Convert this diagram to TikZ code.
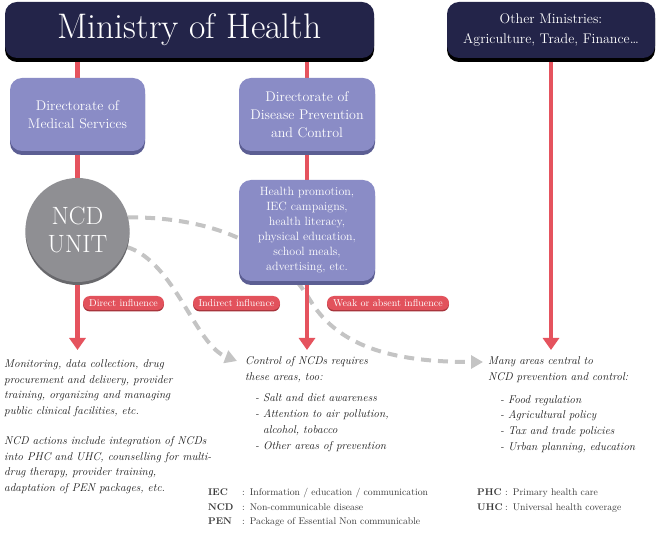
\documentclass[tikz,border=0pt]{standalone}
\usepackage{fontspec}
\usetikzlibrary{arrows.meta,shadows,backgrounds}
\definecolor{navy}{HTML}{232449}
\definecolor{lav}{HTML}{8A8CC6}
\definecolor{lavdark}{HTML}{5C5E93}
\definecolor{ncdgray}{HTML}{8F8F93}
\definecolor{graydark}{HTML}{68686C}
\definecolor{redline}{HTML}{E5535E}
\definecolor{pillred}{HTML}{E2525C}
\definecolor{pilldark}{HTML}{A8343C}
\definecolor{dashgray}{HTML}{C4C4C4}
\definecolor{txt}{HTML}{1A1A1A}
\definecolor{legtxt}{HTML}{3A3A3A}
\begin{document}
\begin{tikzpicture}[x=1pt,y=-1pt,
  topbox/.style={rectangle, rounded corners=12pt, fill=navy, text=white, inner sep=0pt, align=center,
    drop shadow={shadow xshift=0pt, shadow yshift=-4pt, fill=black, opacity=1}},
  dirbox/.style={rectangle, rounded corners=12pt, fill=lav, text=white, inner sep=0pt, align=center,
    drop shadow={shadow xshift=0pt, shadow yshift=-4pt, fill=lavdark, opacity=1}},
  unit/.style={circle, fill=ncdgray, text=white, inner sep=0pt, align=center,
    drop shadow={shadow xshift=0pt, shadow yshift=-3pt, fill=graydark, opacity=1}},
  pill/.style={rectangle, rounded corners=7pt, fill=pillred, text=white, inner sep=0pt,
    minimum height=14pt, font=\fontsize{10}{12}\selectfont,
    drop shadow={shadow xshift=0pt, shadow yshift=-1.5pt, fill=pilldark, opacity=1}},
  redconn/.style={draw=redline, line width=4.5pt},
  redarrow/.style={redconn, -{Triangle[width=16pt,length=12pt]}},
  dashconn/.style={draw=dashgray, line width=4pt, dash pattern=on 10pt off 7pt,
    -{Triangle[width=13pt,length=12pt]}},
  italictext/.style={anchor=base west, inner sep=0pt, text=txt},
  legend/.style={anchor=base west, inner sep=0pt, text=legtxt}
]
\useasboundingbox (0,0) rectangle (656,534);

% boxes
\node[topbox, minimum width=369pt, minimum height=56pt, font=\fontsize{35.5}{38}\selectfont] (moh) at (189.5,30) {Ministry of Health};
\node[topbox, minimum width=208pt, minimum height=56pt, font=\fontsize{14}{20}\selectfont] (other) at (551,30) {Other Ministries:\\Agriculture, Trade, Finance\dots};
\node[dirbox, minimum width=135pt, minimum height=73pt, font=\fontsize{14}{18}\selectfont] (dms) at (77.5,114.5) {Directorate of\\Medical Services};
\node[dirbox, minimum width=136pt, minimum height=73pt, font=\fontsize{14}{18}\selectfont] (ddpc) at (307,114.5) {Directorate of\\Disease Prevention\\and Control};
\node[dirbox, minimum width=136pt, minimum height=101pt, font=\fontsize{12}{15}\selectfont] (hp) at (307,230.5) {Health promotion,\\IEC campaigns,\\health literacy,\\physical education,\\school meals,\\advertising, etc.};
\node[unit, minimum size=104pt, font=\fontsize{25}{28}\selectfont] (ncd) at (77.5,230) {NCD\\UNIT};

% influence labels
\node[pill, minimum width=81pt] (l1) at (123.5,303) {Direct influence};
\node[pill, minimum width=87pt] (l2) at (236.5,303) {Indirect influence};
\node[pill, minimum width=122pt] (l3) at (388,303) {Weak or absent influence};

% arrow end points
\coordinate (a1) at (77.5,350);
\coordinate (a2) at (307,350);
\coordinate (a3) at (551,350);
\coordinate (c1end) at (483,362);
\coordinate (c2end) at (237,361);

% texts
\node[italictext] (t1) at (4,368) {\fontsize{11.3}{15.5}\selectfont\itshape
  \begin{tabular}[t]{@{}l@{}}Monitoring, data collection, drug\\procurement and delivery, provider\\training, organizing and managing\\public clinical facilities, etc.\end{tabular}};
\node[italictext] (t2) at (4,445) {\fontsize{11.3}{15.5}\selectfont\itshape
  \begin{tabular}[t]{@{}l@{}}NCD actions include integration of NCDs\\into PHC and UHC, counselling for multi-\\drug therapy, provider training,\\adaptation of PEN packages, etc.\end{tabular}};
\node[italictext] (t3) at (245,365) {\fontsize{11.3}{15.5}\selectfont\itshape
  \begin{tabular}[t]{@{}l@{}}Control of NCDs requires\\these areas, too:\end{tabular}};
\node[italictext] (t4) at (255,402) {\fontsize{11.3}{15.7}\selectfont\itshape
  \begin{tabular}[t]{@{}l@{}}- Salt and diet awareness\\- Attention to air pollution,\\\phantom{- }alcohol, tobacco\\- Other areas of prevention\end{tabular}};
\node[italictext] (t5) at (488,365) {\fontsize{11.3}{15.5}\selectfont\itshape
  \begin{tabular}[t]{@{}l@{}}Many areas central to\\NCD prevention and control:\end{tabular}};
\node[italictext] (t6) at (500,403) {\fontsize{11.3}{15.7}\selectfont\itshape
  \begin{tabular}[t]{@{}l@{}}- Food regulation\\- Agricultural policy\\- Tax and trade policies\\- Urban planning, education\end{tabular}};

% legend
\node[legend] (leg1) at (208,495.5) {\fontsize{9.7}{14.5}\selectfont
  \begin{tabular}[t]{@{}p{34pt}@{}l@{\hspace{5pt}}l@{}}\textbf{IEC} & : & Information / education / communication\\
  \textbf{NCD} & : & Non-communicable disease\\
  \textbf{PEN} & : & Package of Essential Non communicable\end{tabular}};
\node[legend] (leg2) at (477,495.5) {\fontsize{9.7}{14.5}\selectfont
  \begin{tabular}[t]{@{}p{28pt}@{}l@{\hspace{5pt}}l@{}}\textbf{PHC} & : & Primary health care\\
  \textbf{UHC} & : & Universal health coverage\end{tabular}};

% connectors
\begin{scope}[on background layer]
  \fill[white] (0,0) rectangle (656,534);
  \draw[dashconn] (ncd.14) .. controls (220,217) and (280,250) .. (310,300)
      .. controls (340,350) and (400,362) .. (c1end);
  \draw[dashconn] (ncd.-19) .. controls (175,262) and (195,345) .. (c2end);
  \draw[redconn] (moh.south -| dms.north) -- (dms.north);
  \draw[redconn] (dms.south) -- (ncd.north);
  \draw[redarrow] (ncd.south) -- (a1);
  \draw[redconn] (moh.south -| ddpc.north) -- (ddpc.north);
  \draw[redconn] (ddpc.south) -- (hp.north);
  \draw[redarrow] (hp.south) -- (a2);
  \draw[redarrow] (other.south) -- (a3);
\end{scope}
\end{tikzpicture}
\end{document}
